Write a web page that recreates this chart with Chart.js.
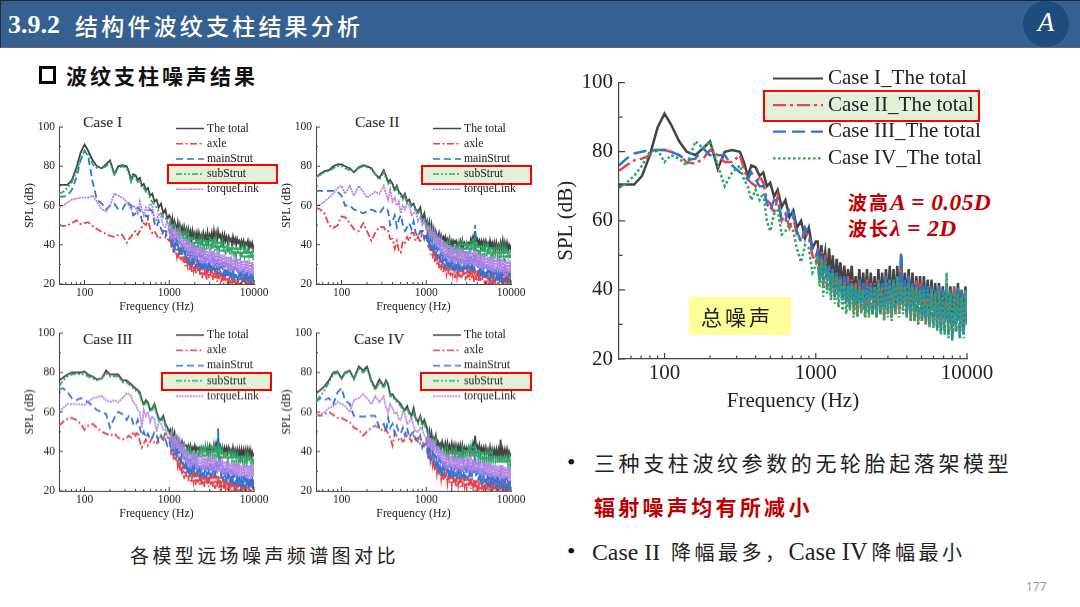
<!DOCTYPE html>
<html lang="zh">
<head>
<meta charset="utf-8">
<title>3.9.2 结构件波纹支柱结果分析</title>
<script src="https://cdn.jsdelivr.net/npm/chart.js@4"></script>
<style>
  html, body { margin: 0; padding: 0; background: #fff; }
  body { position: relative; width: 1080px; height: 607px; overflow: hidden; font-family: "Noto Sans CJK SC", sans-serif; color: #222; filter: blur(0.35px); }
  canvas { position: absolute; z-index: 2; }
  .abs { position: absolute; white-space: nowrap; transform: translateY(-50%); }
  .header { position: absolute; left: 0; top: 0; width: 1080px; height: 48px; background: #36608f; border-top: 1px solid #1c2a3a; border-bottom: 1px solid #666; box-sizing: border-box; border-left: 1px solid #1c2a3a; }
  .hl { position: absolute; box-sizing: border-box; background: #e2efd9; border: 2px solid #f00; z-index: 1; }
  .case { font: 15.5px "Liberation Serif", serif; color: #222; }
  .serif { font-family: "Liberation Serif", serif; }
  .red { color: #c00000; font-weight: 700; }
  .bullet { font: 24px "Liberation Serif", serif; color: #111; }
</style>
</head>
<body>
<div class="header"></div>
<div class="abs serif" style="left:8px;top:25px;color:#fff;font-size:26px;font-weight:700">3.9.2</div>
<div class="abs" style="left:75px;top:25px;color:#fff;font-size:23px;font-weight:500;letter-spacing:3.2px">结构件波纹支柱结果分析</div>
<svg style="position:absolute;left:1020px;top:0" width="54" height="48">
  <circle cx="26" cy="24" r="23" fill="#1d4c7e"/>
  <text x="26" y="31" text-anchor="middle" fill="#fff" font-family="Liberation Serif" font-style="italic" font-size="27">A</text>
</svg>

<div style="position:absolute;left:39px;top:66px;width:17px;height:18px;border:3px solid #000;box-sizing:border-box"></div>
<div class="abs" style="left:66px;top:75px;font-size:21px;font-weight:700;letter-spacing:3px;color:#111">波纹支柱噪声结果</div>

<div class="hl" style="left:167px;top:164px;width:111px;height:20px"></div>
<div class="hl" style="left:421px;top:165px;width:111px;height:20px"></div>
<div class="hl" style="left:161px;top:372px;width:111px;height:19px"></div>
<div class="hl" style="left:420px;top:372px;width:112px;height:19px"></div>
<div class="hl" style="left:763px;top:90px;width:217px;height:32px"></div>

<div class="abs case" style="left:83px;top:122px">Case I</div>
<div class="abs case" style="left:355px;top:122px">Case II</div>
<div class="abs case" style="left:83px;top:339px">Case III</div>
<div class="abs case" style="left:354px;top:339px">Case IV</div>

<canvas id="chartCase1"></canvas>
<canvas id="chartCase2"></canvas>
<canvas id="chartCase3"></canvas>
<canvas id="chartCase4"></canvas>
<canvas id="chartTotal"></canvas>

<div class="abs" style="left:130px;top:554px;font-size:19px;letter-spacing:3.4px">各模型远场噪声频谱图对比</div>

<div class="abs" style="left:848px;top:202px;font-size:19px;letter-spacing:2px"><span class="red">波高<i class="serif" style="font-size:23.5px;letter-spacing:.4px">A = 0.05D</i></span></div>
<div class="abs" style="left:848px;top:228px;font-size:19px;letter-spacing:2px"><span class="red">波长<i class="serif" style="font-size:23.5px;letter-spacing:.4px">λ = 2D</i></span></div>

<div style="position:absolute;left:689px;top:297px;width:102px;height:38px;background:#ffff99"></div>
<div class="abs" style="left:701px;top:316px;font-size:21px;letter-spacing:3px;z-index:3">总噪声</div>

<div class="abs bullet" style="left:567px;top:462px">•</div>
<div class="abs" style="left:594px;top:462px;font-size:21px;letter-spacing:3.6px">三种支柱波纹参数的无轮胎起落架模型</div>
<div class="abs red" style="left:594px;top:506px;font-size:21px;letter-spacing:3.3px">辐射噪声均有所减小</div>
<div class="abs bullet" style="left:567px;top:551px">•</div>
<div class="abs" style="left:592px;top:551px;font-size:20px;letter-spacing:3.5px"><span class="serif" style="font-size:23.8px;letter-spacing:0">Case II </span><span style="margin-left:5px">降幅最多，</span><span class="serif" style="font-size:24.3px;letter-spacing:0">Case IV</span><span style="margin-left:4px">降幅最小</span></div>
<div class="abs" style="left:1026px;top:586px;font:12px 'Noto Sans',sans-serif;color:#999">177</div>

<script>
// ---------- dados ----------
const freq = [50,56,63,71,80,90,100,110,125,140,160,180,200,225,250,280,315,335,355,375,
  400,425,450,475,500,530,560,595,630,670,710,750,800,850,900,950,1000,
  1030,1060,1090,1120,1155,1190,1225,1260,1295,1335,
  1375,1415,1455,1500,1545,1590,1635,1680,1730,1780,
  1835,1885,1940,2000,2060,2120,2180,2245,2310,2380,
  2450,2520,2595,2670,2750,2830,2910,3000,3085,3175,
  3270,3365,3460,3565,3670,3775,3885,4000,4115,4235,
  4360,4490,4620,4755,4895,5040,5185,5340,5495,5655,
  5820,5990,6165,6345,6530,6720,6920,7120,7330,7540,
  7765,7990,8225,8465,8710,8965,9230,9500,9775,10000];

const xMajorTicks = [100,1000,10000];
const xMinorTicks = [60,70,80,90,200,300,400,500,600,700,800,900,2000,3000,4000,5000,6000,7000,8000,9000];
const yMinorTicks = [30,50,70,90];

const partNames = ['The total','axle','mainStrut','subStrut','torqueLink'];
const totalNames = ['Case I_The total','Case II_The total','Case III_The total','Case IV_The total'];

const case1Total = [70.5,70.5,70.5,73,79,87,91,88,83,80,79,81,83,76,80,80.5,80,77,73,76,75.5,73,74,70,71,68,69,65,66,62,63,59,61,56,58,53,55,
  54,49,53,48,52,50,47,51,46,50, 47,49,45,49,46,48,44,48,45,47, 42,47,44,46,43,46,42,46,43,45, 42,46,43,45,41,46,42,45,43,46,
  42,47,43,46,42,47,44,45,42,45, 41,45,42,44,41,44,42,43,40,44, 41,43,40,43,41,42,39,42,40,42, 39,41,40,42,38,41,39,41,38,40];
const case1Axle = [50,49.5,50,51,52.5,50.5,51,51.5,49.5,48,46.5,45.5,44.5,44,45,45,41,43,44,46,47,45,47,49,51,50,53,48,46,47,45,43,44,47,47,43,42,
  45,38,43,36,42,37,34,41,33,39, 32,38,31,36,29,35,30,34,27,33, 26,32,27,31,25,30,26,31,24,29, 23,30,24,29,22,28,23,31,24,29,
  22,30,23,28,21,28,22,27,21,26, 20,27,21,26,20,25,21,26,19,25, 20,25,19,24,20,26,19,24,20,24, 19,25,20,24,19,26,20,25,19,24];
const case1Main = [64.5,64.5,65,68,74,83,88,85,72,63,61,58,60,61,58,58,62,61,60,55,56,59,58,52,53,55,54,58,57,51,49,52,48,46,44,49,48,
  42,47,38,45,36,44,39,43,35,42, 34,41,36,40,33,39,31,39,30,38, 29,38,30,37,28,36,29,36,27,35, 27,35,28,34,26,34,27,33,26,36,
  27,35,26,33,25,33,26,32,24,32, 24,31,23,31,24,30,23,30,22,29, 22,29,23,28,21,28,22,28,21,28, 21,27,22,27,21,27,20,26,21,26];
const case1Sub = [66,67,69,72,77,84,88,86,81,79,79,80,82,75.5,79,80,79,76,72,75,74,72,73,69,69,67,67,63,62,60,59,57,56,54,54,51,50,
  52,47,51,46,50,48,45,49,44,48, 45,47,43,46,42,46,40,45,41,44, 37,44,38,43,37,43,38,42,37,42, 36,42,38,43,37,44,38,44,37,43,
  38,44,37,43,38,42,37,42,36,41, 36,41,35,40,36,40,35,39,36,39, 35,39,34,39,35,38,34,38,33,38, 34,38,33,37,34,37,33,37,32,37];
const case1Torque = [59,60,61.5,63,63.5,64,64,64,65,62,58,57,60,66,65,64,62,60,58,60,59,56,62,58,55,59,57,61,60,53,52,56,54,50,49,52,48,
  45,50,43,48,41,47,44,46,40,45, 39,44,40,43,37,43,35,42,34,41, 33,41,34,40,32,39,33,39,31,38, 30,38,31,38,30,37,31,38,30,37,
  29,37,30,36,29,36,28,35,29,35, 27,35,28,34,27,34,26,34,27,33, 26,33,27,33,25,33,26,32,25,32, 25,32,26,32,24,32,25,31,24,31];

const case2Total = [74.5,76,77.5,78,80,81,81,80,79,77,79.5,80.5,80,79,76,74,78,75,72,73,71,68,70,67,66,64,66,62,63,60,61,58,57,59,53,56,50,
  52,47,51,46,50,45,48,44,47,45, 44,46,42,45,43,44,41,44,42,43, 39,43,40,42,39,42,41,42,39,41, 40,42,38,42,39,41,40,41,39,41,
  40,43,41,44,41,47,42,43,40,42, 39,42,40,42,39,42,40,41,38,42, 39,41,38,41,37,41,38,40,37,41, 38,42,37,41,38,41,37,40,38,40];
const case2Axle = [59,58,56,50,48.5,50,54.5,54,51,48,47,51,47,42,46,49,49,47,47,43,43,38,42,37,36,42,41,44,42,46,46,42,44,41,48,43,44,
  46,38,43,35,42,33,39,31,37,30, 35,28,33,27,34,26,31,28,25,31, 25,31,24,30,25,29,23,30,24,29, 23,29,23,28,24,29,22,30,23,31,
  22,30,23,28,21,28,22,27,21,27, 21,26,22,26,20,26,21,25,20,25, 20,26,21,25,20,25,21,25,20,24, 20,25,21,25,20,24,20,25,21,24];
const case2Main = [67.5,67.5,67.5,67.5,67.5,67,65,60,60,58,57,56,57,58,57,56,59,59,57,50,52,55,49,53,55,50,47,49,51,48,52,46,44,47,47,43,46,
  41,46,38,44,37,43,36,42,34,39, 33,39,31,38,30,37,28,36,29,36, 27,35,28,35,27,34,26,34,27,33, 26,33,27,33,26,33,27,34,26,34,
  27,34,26,33,27,50,29,33,25,32, 24,31,23,31,24,30,23,30,22,29, 22,29,23,28,21,28,22,27,21,28, 21,27,21,33,22,27,21,26,20,26];
const case2Sub = [74.5,75.5,77,77.5,79,80,80,79,78,77,79,80,79.5,78.5,76,73,77,74,71,72,70,67,69,66,65,63,65,61,62,59,60,57,56,58,52,54,49,
  51,45,50,44,48,43,46,42,45,43, 41,44,40,43,41,42,38,42,39,41, 36,41,37,40,36,40,37,40,35,40, 35,40,36,40,35,41,36,40,36,41,
  36,42,37,43,36,43,36,41,35,40, 35,40,34,39,35,39,34,39,35,39, 34,39,34,38,35,38,34,38,33,38, 33,38,34,38,33,37,34,37,33,37];
const case2Torque = [60,60.5,62,64,66,69,70,66,70,65,70,67,64,65.5,67,66,70,66,63,68,62,64,60,62,56,60,58,61,60,55,56,58,52,54,50,52,48,
  47,50,45,48,44,47,43,46,41,44, 40,43,38,42,35,42,33,41,34,40, 31,40,32,39,31,39,30,38,31,38, 30,38,29,38,30,37,29,37,30,37,
  29,37,30,36,29,37,29,36,28,35, 28,35,27,35,28,34,27,34,27,34, 27,33,26,34,26,33,27,33,26,33, 26,33,25,32,26,32,25,32,26,32];

const case3Total = [76,77.5,79,80,80,80,80.5,79,78,76.5,77,81,79,79,79,76,76,75,74,73,72,71,70,66,64,66,65,61,62,64,60,57,56,58,54,52,50,
  51,47,50,45,49,45,47,44,46,44, 43,45,42,44,43,43,41,43,41,43, 40,42,41,43,40,42,41,42,40,42, 40,42,41,42,40,42,41,43,40,42,
  40,43,41,44,41,47,42,43,40,42, 39,42,40,42,39,42,40,41,38,42, 39,41,38,41,38,41,37,41,38,41, 38,41,37,41,38,41,37,40,38,39];
const case3Axle = [53,55,56.5,57,56,54,51,53,54,52,50,49,48,49,47,46,47,48,47,50,48,50,45,42,44,46,43,45,47,44,44,47,48,46,50,47,47,
  44,38,43,36,42,35,39,33,36,30, 36,28,33,26,34,27,32,25,31,26, 24,31,25,30,23,30,24,29,23,29, 23,29,22,28,23,29,22,28,23,29,
  22,29,21,28,22,28,21,27,22,27, 21,26,21,26,20,26,21,25,20,25, 21,25,20,25,20,25,20,25,21,24, 20,24,20,25,21,24,20,24,20,24];
const case3Main = [71.5,72,70,67,66,67,66,65,63,61,60,59,52,57,60,59,56,58,58,54,53,56,52,48,50,47,49,46,47,50,48,45,48,45,46,43,45,
  43,47,40,45,38,44,37,43,35,41, 34,41,33,38,31,37,29,36,28,36, 28,35,29,35,27,34,28,34,27,33, 27,33,28,33,27,33,28,34,27,34,
  28,34,27,35,29,52,30,34,26,33, 25,32,24,32,25,31,24,31,23,30, 23,29,22,29,23,28,22,28,22,28, 21,28,22,27,21,27,22,27,21,26];
const case3Sub = [73,76,78,79,79.5,79,79,78,77,76,77,79.5,78,78,78,75,75,74,73,72,71,70,69,65,63,65,64,60,61,63,59,56,55,57,53,51,49,
  50,46,49,44,48,43,46,42,45,42, 40,43,39,43,40,41,37,41,38,41, 37,40,37,40,36,40,37,40,37,41, 37,41,37,42,37,42,38,43,38,43,
  38,43,38,43,37,43,37,41,36,41, 36,40,36,40,35,39,36,39,35,39, 35,39,35,38,35,38,34,38,35,38, 34,38,34,38,35,37,34,37,34,37];
const case3Torque = [60,62,64,64,64,64,63.5,65,67,67.5,68,66,65,66,65,67,69.5,69,68,65,64,61,60,52,61,58,60,55,58,56,50,55,54,51,51,48,47,
  46,49,44,48,43,47,42,46,40,45, 39,44,38,42,35,41,33,40,32,39, 32,39,33,39,31,38,31,37,32,37, 31,37,31,37,30,37,31,38,30,37,
  30,38,30,37,29,36,30,36,29,36, 29,35,28,35,29,35,28,34,28,34, 28,34,27,34,28,34,27,33,27,34, 27,33,26,33,27,33,26,33,27,32];

const case4Total = [69.5,71,73,76,80,80.5,77,80,81,77,83,81,83,76,72,76.5,73,76,74,69,69,67,66,65,64,62,61,63,60,58,62,57,55,58,54,56,53,
  51,47,50,44,49,45,47,46,48,42, 45,43,44,41,45,43,41,44,40,44, 40,43,41,44,40,43,39,43,40,43, 40,43,39,43,39,42,40,42,40,42,
  39,42,40,44,41,48,42,43,40,43, 39,42,40,42,39,42,39,41,38,42, 38,41,38,41,38,41,37,41,38,46, 37,41,38,41,38,41,37,40,38,39];
const case4Axle = [58.5,58,59,60,58.5,57,57,56,55,52,51,48,50,52,53,52,50,51,49,47,43,49,48,46,47,45,46,48,47,45,48,46,47,44,45,43,45,
  41,36,40,35,38,33,36,30,35,29, 34,28,32,26,31,25,30,26,29,24, 30,24,29,23,28,24,27,22,28,23, 28,22,27,22,28,23,28,21,27,22,
  28,21,27,22,26,20,26,21,25,20, 25,20,25,21,25,20,24,20,25,20, 25,20,24,20,25,20,25,20,24,20, 24,20,25,20,24,20,24,21,24,20];
const case4Main = [65,67,66,67,64,70,72,66,64,58,58,57.5,58,58,58,52,54,50,57,52,54,49,53,50,49,52,48,52,47,49,50,46,45,48,42,44,46,
  40,44,36,43,35,41,34,39,32,38, 30,37,28,36,28,35,27,35,29,34, 27,34,27,33,26,33,27,33,26,33, 26,32,26,32,27,33,26,34,26,33,
  26,33,27,35,28,44,27,33,25,32, 24,31,23,31,24,30,23,30,22,29, 22,29,23,28,21,28,22,28,21,33, 21,27,22,27,21,27,22,26,21,26];
const case4Sub = [66,68,71,75,79,80,76.5,79.5,80.5,76.5,82,80,82,75,71,75,72,75,73,68,68,66,65,64,63,61,60,62,59,57,60,56,54,57,52,54,51,
  50,46,49,43,47,43,46,44,46,41, 43,41,42,39,41,41,38,41,37,41, 37,40,38,41,37,40,37,41,37,40, 36,40,37,41,36,41,37,41,36,41,
  37,42,37,43,37,43,37,41,36,41, 36,40,36,40,35,39,35,39,35,39, 35,39,35,38,35,38,34,38,34,38, 34,38,34,37,34,37,33,37,33,37];
const case4Torque = [58,59,60,62,63,65,64,63,60,66,67,69,67,64,68,65,68,62,60,64,62,59,60,56,56,60,59,54,55,57,53,50,50,52,51,48,47,
  44,48,42,47,41,46,40,45,39,43, 37,42,36,41,33,40,32,39,31,38, 31,38,32,38,30,37,31,37,30,37, 31,37,30,37,30,37,31,38,29,37,
  30,38,29,36,30,36,29,35,29,35, 28,35,28,35,27,34,28,34,27,34, 27,33,27,33,26,33,27,33,26,33, 26,33,26,32,27,32,26,32,25,32];

const totalCase1 = [70.5,70.5,70.5,73,79,87,91,88,83,80,79,81,83,75,80,80.5,80,77,73,76,75.5,73,74,70,71,67,69,64,66,61,63,58,60,55,58,52,54,
  54,46,53,47,51,44,52,43,50,42, 49,43,48,41,47,40,46,41,47,38, 44,37,46,38,45,37,46,36,45,37, 44,36,46,37,45,35,46,36,47,36,
  46,36,47,35,50,36,45,37,46,35, 45,35,44,36,44,34,44,35,43,34, 43,34,42,33,42,34,41,33,42,32, 41,33,41,32,42,33,40,32,41,31];
const totalCase2 = [74.5,76,77.5,78,79,80.5,80.5,80,79,77,76.5,78,80.5,79,77,77,79,75,72,71,70,73,71,66,65,62,67,60,62,58,61,56,54,57,55,50,48,
  52,43,51,41,50,42,47,39,46,38, 45,39,44,37,43,36,44,35,43,34, 42,33,43,34,42,32,43,33,42,33, 42,32,43,33,42,32,44,33,43,32,
  43,33,44,34,46,35,43,32,44,31, 42,31,43,30,42,31,41,30,41,30, 41,29,40,29,41,28,40,29,41,28, 39,27,41,28,40,29,39,28,40,30];
const totalCase3 = [76,78,79.5,80,80.5,80.5,80.5,80,79,77.5,78,81,79,79,79,76,74,73,72,74,72,70,70,65,63,66,66,60,60,64,62,57,54,58,56,52,50,
  51,42,50,43,49,40,47,41,46,38, 45,38,44,37,44,36,43,35,42,36, 41,35,43,35,42,34,42,34,42,33, 41,34,43,33,42,34,44,34,43,33,
  43,34,44,35,51,36,43,33,44,33, 42,32,42,33,41,31,42,31,41,30, 41,30,40,29,41,28,40,28,41,27, 40,26,39,28,41,26,40,27,40,30];
const totalCase4 = [69.5,71,73,76,80,80.5,77,79,78,76,83,81,83,76,70,74,76,72,70,66,69,66,68,60,57,62,63,56,57,59,57,52,48,53,52,45,47,
  50,41,49,38,48,39,46,37,45,36, 44,35,43,34,42,33,41,34,42,32, 41,32,41,33,40,32,41,32,41,33, 41,32,42,33,41,31,42,32,43,31,
  43,33,44,32,42,33,41,32,42,31, 41,31,41,30,40,31,40,30,40,29, 40,29,39,28,40,27,39,27,45,26, 39,25,40,28,39,27,38,26,40,30];

// ---------- estilos ----------
const GRAY = '#444444', RED = '#e8434b', BLUE = '#2a76d8', GREEN = '#2fa866', PURPLE = '#b283e6';
const smallStyles = [
  { color: GRAY, dash: [] },
  { color: RED, dash: [7, 2.5, 2, 2.5] },
  { color: BLUE, dash: [7, 4] },
  { color: GREEN, dash: [6, 2, 2, 2, 2, 2] },
  { color: PURPLE, dash: [2, 0.8] }
];
const totalStyles = [
  { color: GRAY, dash: [] },
  { color: RED, dash: [13, 4, 3, 4] },
  { color: BLUE, dash: [13, 6] },
  { color: GREEN, dash: [2.6, 2.4] }
];

Chart.defaults.font.family = '"Liberation Serif", serif';
Chart.defaults.color = '#222';

// marcas para dentro, maiores e menores, a partir das escalas
const tickMarks = {
  id: 'tickMarks',
  afterDraw(chart, args, opts) {
    const { ctx, chartArea, scales } = chart;
    ctx.save();
    ctx.strokeStyle = GRAY;
    ctx.lineWidth = opts.width;
    ctx.beginPath();
    xMajorTicks.forEach(v => { const p = scales.x.getPixelForValue(v); ctx.moveTo(p, chartArea.bottom); ctx.lineTo(p, chartArea.bottom - opts.major); });
    xMinorTicks.forEach(v => { const p = scales.x.getPixelForValue(v); ctx.moveTo(p, chartArea.bottom); ctx.lineTo(p, chartArea.bottom - opts.minor); });
    scales.y.ticks.forEach(t => { const p = scales.y.getPixelForValue(t.value); ctx.moveTo(chartArea.left, p); ctx.lineTo(chartArea.left + opts.major, p); });
    yMinorTicks.forEach(v => { const p = scales.y.getPixelForValue(v); ctx.moveTo(chartArea.left, p); ctx.lineTo(chartArea.left + opts.minor, p); });
    ctx.stroke();
    ctx.restore();
  }
};

// legenda flutuante dentro do grafico
const lineLegend = {
  id: 'lineLegend',
  afterDraw(chart, args, opts) {
    const { ctx, canvas } = chart;
    const ox = canvas.offsetLeft, oy = canvas.offsetTop;
    ctx.save();
    ctx.font = opts.fontSize + 'px "Liberation Serif"';
    ctx.textBaseline = 'middle';
    chart.data.datasets.forEach((ds, i) => {
      const y = opts.firstRow + i * opts.rowGap - oy;
      ctx.strokeStyle = ds.borderColor;
      ctx.lineWidth = opts.sampleWidth;
      ctx.setLineDash(ds.borderDash);
      ctx.beginPath();
      ctx.moveTo(opts.lineFrom - ox, y);
      ctx.lineTo(opts.lineTo - ox, y);
      ctx.stroke();
      ctx.setLineDash([]);
      ctx.fillStyle = '#222';
      ctx.fillText(ds.label, opts.textAt - ox, y);
    });
    ctx.restore();
  }
};

function makeDatasets(names, styles, seriesList, width) {
  return names.map((name, i) => ({
    label: name,
    data: freq.map((f, k) => ({ x: f, y: seriesList[i][k] })),
    borderColor: styles[i].color,
    borderDash: styles[i].dash,
    borderWidth: width,
    pointRadius: 0,
    tension: 0,
    order: names.length - i
  }));
}

function makeChart(id, box, datasets) {
  const canvas = document.getElementById(id);
  const w = box.axisW + (box.right - box.left) + box.padR;
  const h = box.padT + (box.bottom - box.top) + box.axisH;
  canvas.width = w;
  canvas.height = h;
  canvas.style.left = (box.left - box.axisW) + 'px';
  canvas.style.top = (box.top - box.padT) + 'px';
  canvas.style.width = w + 'px';
  canvas.style.height = h + 'px';

  return new Chart(canvas, {
    type: 'line',
    data: { datasets },
    plugins: [tickMarks, lineLegend],
    options: {
      responsive: false,
      animation: false,
      devicePixelRatio: 1,
      layout: { padding: { top: box.padT, right: box.padR, left: 0, bottom: 0 } },
      plugins: {
        legend: { display: false },
        tooltip: { enabled: false },
        tickMarks: { major: box.tickMajor, minor: box.tickMinor, width: box.axisLine },
        lineLegend: box.legend
      },
      scales: {
        x: {
          type: 'logarithmic',
          min: 50,
          max: 10000,
          grid: { display: false, drawTicks: false },
          border: { display: true, color: GRAY, width: box.axisLine },
          afterBuildTicks: scale => { scale.ticks = xMajorTicks.map(v => ({ value: v })); },
          afterFit: scale => { scale.height = box.axisH; },
          ticks: { autoSkip: false, maxRotation: 0, padding: box.xPad, color: '#222', font: { size: box.tickFont }, callback: v => String(v) },
          title: { display: true, text: 'Frequency (Hz)', color: '#222', padding: 0, font: { size: box.titleFont } }
        },
        y: {
          min: 20,
          max: 100,
          grid: { display: false, drawTicks: false },
          border: { display: true, color: GRAY, width: box.axisLine },
          afterFit: scale => { scale.width = box.axisW; },
          ticks: { stepSize: 20, padding: box.yPad, color: '#222', font: { size: box.tickFont } },
          title: { display: true, text: 'SPL (dB)', color: '#222', padding: box.yTitlePad, font: { size: box.titleFont } }
        }
      }
    }
  });
}

function smallBox(left, top, legendX, firstRow) {
  return {
    left, right: left + 195, top, bottom: top + 157.5,
    axisW: 40, axisH: 30, padT: 12, padR: 30,
    tickMajor: 4, tickMinor: 2, axisLine: 1,
    tickFont: 11.5, titleFont: 11.8, xPad: 2, yPad: 4, yTitlePad: { top: 4, bottom: 0 },
    legend: { fontSize: 11.7, firstRow, rowGap: 15.2, lineFrom: legendX, lineTo: legendX + 28, textAt: legendX + 31, sampleWidth: 1.5 }
  };
}

makeChart('chartCase1', smallBox(59, 126.5, 176, 128.5),
  makeDatasets(partNames, smallStyles, [case1Total, case1Axle, case1Main, case1Sub, case1Torque], 1.8));
makeChart('chartCase2', smallBox(316, 126.5, 433, 128.5),
  makeDatasets(partNames, smallStyles, [case2Total, case2Axle, case2Main, case2Sub, case2Torque], 1.8));
makeChart('chartCase3', smallBox(59, 333, 176, 335),
  makeDatasets(partNames, smallStyles, [case3Total, case3Axle, case3Main, case3Sub, case3Torque], 1.8));
makeChart('chartCase4', smallBox(316, 333, 433, 335),
  makeDatasets(partNames, smallStyles, [case4Total, case4Axle, case4Main, case4Sub, case4Torque], 1.8));

makeChart('chartTotal', {
  left: 619, right: 967, top: 79, bottom: 359,
  axisW: 65, axisH: 55, padT: 15, padR: 35,
  tickMajor: 6, tickMinor: 3.5, axisLine: 1.2,
  tickFont: 21, titleFont: 21, xPad: 2, yPad: 6, yTitlePad: 0,
  legend: { fontSize: 21, firstRow: 78.5, rowGap: 26.6, lineFrom: 773, lineTo: 823, textAt: 828, sampleWidth: 2.2 }
}, makeDatasets(totalNames, totalStyles, [totalCase1, totalCase2, totalCase3, totalCase4], 2.5));
</script>
</body>
</html>
